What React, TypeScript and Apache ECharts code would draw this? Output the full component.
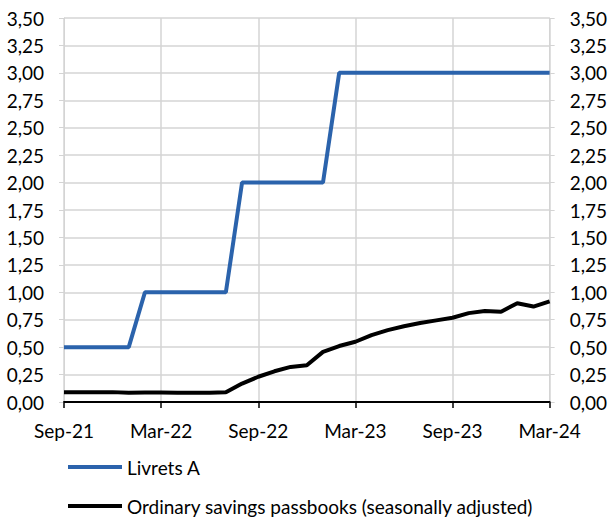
import React, { useEffect, useRef } from "react";
import * as echarts from "echarts";

const months = [
  "Sep-21", "Oct-21", "Nov-21", "Dec-21", "Jan-22", "Feb-22", "Mar-22", "Apr-22",
  "May-22", "Jun-22", "Jul-22", "Aug-22", "Sep-22", "Oct-22", "Nov-22", "Dec-22",
  "Jan-23", "Feb-23", "Mar-23", "Apr-23", "May-23", "Jun-23", "Jul-23", "Aug-23",
  "Sep-23", "Oct-23", "Nov-23", "Dec-23", "Jan-24", "Feb-24", "Mar-24",
];

const livretsA = [
  0.5, 0.5, 0.5, 0.5, 0.5, 1.0, 1.0, 1.0, 1.0, 1.0, 1.0, 2.0, 2.0, 2.0, 2.0, 2.0,
  2.0, 3.0, 3.0, 3.0, 3.0, 3.0, 3.0, 3.0, 3.0, 3.0, 3.0, 3.0, 3.0, 3.0, 3.0,
];

const ordinaryPassbooks = [
  0.09, 0.088, 0.088, 0.09, 0.084, 0.086, 0.086, 0.085, 0.085, 0.085, 0.088, 0.168,
  0.23, 0.28, 0.32, 0.335, 0.457, 0.51, 0.549, 0.61, 0.655, 0.69, 0.72, 0.744,
  0.768, 0.81, 0.83, 0.823, 0.9, 0.87, 0.918,
];

const seriesNames = ["Livrets A", "Ordinary savings passbooks (seasonally adjusted)"];

const FONT = "Lato";
const FS = 19;
const GRID = "#d4d4d4";

export default function App() {
  const ref = useRef<HTMLDivElement>(null);
  useEffect(() => {
    document.body.style.margin = "0";
    if (!ref.current) return;
    const chart = echarts.init(ref.current, null, { renderer: "svg" });
    const fmt = (v: number) => v.toFixed(2).replace(".", ",");
    const yAxisBase = (position: "left" | "right") => ({
      type: "value" as const,
      position,
      min: 0,
      max: 3.5,
      interval: 0.25,
      axisLine: { show: true, lineStyle: { color: GRID, width: 1 } },
      axisTick: { show: true, length: 5, lineStyle: { color: GRID } },
      splitLine: { show: position === "left", lineStyle: { color: GRID, width: 1.5 } },
      axisLabel: {
        formatter: fmt,
        color: "#000",
        fontFamily: FONT,
        fontSize: FS,
        margin: 20,
      },
    });
    const legendBase = (name: string, top: number) => ({
      orient: "horizontal" as const,
      left: 68,
      top,
      padding: 0,
      itemWidth: 54,
      itemHeight: 4,
      icon: "rect",
      textStyle: { color: "#000", fontFamily: FONT, fontSize: FS, lineHeight: 20 },
      data: [name],
    });
    chart.setOption({
      animation: false,
      backgroundColor: "#fff",
      textStyle: { fontFamily: FONT },
      grid: { left: 64, right: 60, top: 18, bottom: 118, containLabel: false },
      xAxis: {
        type: "category",
        data: months,
        boundaryGap: false,
        axisLine: { show: true, lineStyle: { color: "#000", width: 2 } },
        axisTick: { show: true, interval: 5, length: 6, lineStyle: { color: "#000", width: 1.5 } },
        splitLine: { show: true, interval: 5, lineStyle: { color: GRID, width: 1.5 } },
        axisLabel: {
          interval: 5,
          color: "#000",
          fontFamily: FONT,
          fontSize: FS,
          margin: 19,
        },
      },
      yAxis: [yAxisBase("left"), yAxisBase("right")],
      legend: [legendBase(seriesNames[0], 457), legendBase(seriesNames[1], 496)],
      series: [
        {
          name: seriesNames[0],
          type: "line",
          data: livretsA,
          yAxisIndex: 0,
          showSymbol: false,
          lineStyle: { color: "#2B63AC", width: 4 },
          itemStyle: { color: "#2B63AC" },
        },
        {
          name: seriesNames[1],
          type: "line",
          data: ordinaryPassbooks,
          yAxisIndex: 0,
          showSymbol: false,
          lineStyle: { color: "#000", width: 4 },
          itemStyle: { color: "#000" },
        },
      ],
    });
    return () => chart.dispose();
  }, []);
  return <div ref={ref} style={{ width: 610, height: 520 }} />;
}
